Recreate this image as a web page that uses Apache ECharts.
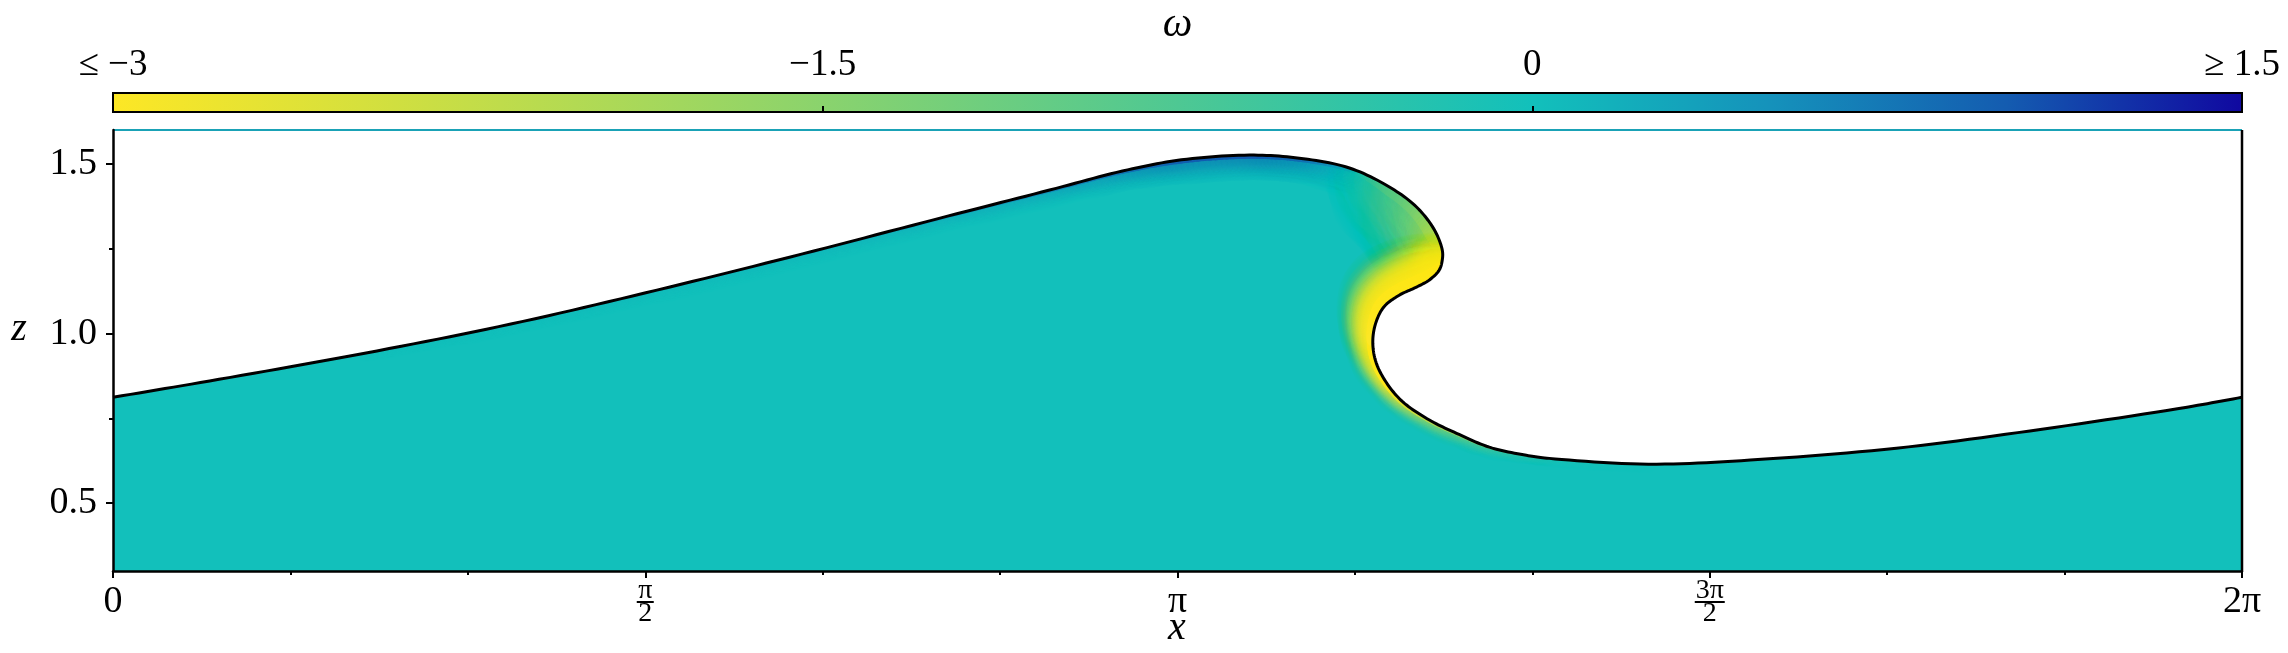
<!DOCTYPE html>
<html>
<head>
<meta charset="utf-8">
<script src="https://cdn.jsdelivr.net/npm/echarts@6/dist/echarts.min.js"></script>
<style>
  html, body { margin: 0; padding: 0; background: #fff; }
  #main { width: 2288px; height: 653px; }
</style>
</head>
<body>
<div id="main"></div>
<script>
// free surface at t = 2.5, in order from x = 0 to x = 2pi
const surfX = [0, 0.313, 0.743, 1.174, 1.605, 2.032, 2.463, 2.764, 2.979, 3.153, 3.354, 3.501, 3.649,
  3.767, 3.847, 3.900, 3.923, 3.923, 3.914, 3.885, 3.847, 3.796, 3.752, 3.728, 3.718, 3.726, 3.755,
  3.805, 3.885, 3.965, 4.062, 4.171, 4.239, 4.531, 4.832, 5.263, 5.693, 6.121, 6.283];
const surfZ = [0.812, 0.865, 0.942, 1.028, 1.128, 1.234, 1.346, 1.423, 1.479, 1.512, 1.526, 1.517, 1.488,
  1.432, 1.373, 1.305, 1.246, 1.217, 1.187, 1.158, 1.137, 1.113, 1.080, 1.035, 0.980, 0.920, 0.860,
  0.800, 0.745, 0.706, 0.665, 0.641, 0.632, 0.615, 0.627, 0.662, 0.718, 0.783, 0.812];
// vorticity just under the surface, and how deep (in z) it reaches into the water
const surfOmega = [0, 0.03, 0.06, 0.1, 0.15, 0.22, 0.38, 0.55, 0.75, 0.95, 1.0, 0.8, 0.15,
  -0.6, -1.0, -1.5, -2.0, -2.4, -2.9, -4, -4, -4, -4, -4, -4, -3.5, -3,
  -2.5, -2, -1.5, -1.0, -0.6, -0.3, -0.05, 0, 0, 0, 0, 0];
const omegaDepth = [0.02, 0.02, 0.02, 0.025, 0.03, 0.03, 0.035, 0.04, 0.045, 0.055, 0.055, 0.055, 0.07,
  0.14, 0.15, 0.15, 0.09, 0.07, 0.07, 0.1, 0.11, 0.11, 0.1, 0.08, 0.06, 0.05, 0.04,
  0.035, 0.03, 0.03, 0.025, 0.02, 0.02, 0.02, 0.02, 0.02, 0.02, 0.02, 0.02];
const zBottom = 0.3, zTop = 1.6;

// colour bar
const cbarValues = [-3, -2.4, -1.5, -0.75, 0, 0.5, 1.0, 1.5];
const cbarColors = ['#fde725', '#d0df40', '#8ad36d', '#4ec893', '#12c0bb', '#1592bb', '#145cb0', '#1008a0'];
const cbarTickLabels = ['≤ −3', '−1.5', '0', '≥ 1.5'];

// axes
const xTickLabels = ['0', '{n|π}\n{b1|}\n{d|2}', 'π', '{n|3π}\n{b2|}\n{d|2}', '2π'];
const yTickValues = [0.5, 1.0, 1.5];
const yMinorValues = [0.75, 1.25];

const SERIF = "'Liberation Serif', 'DejaVu Serif', serif";
const TWO_PI = 2 * Math.PI;

function omegaColor(w) {
  const v = cbarValues;
  w = Math.max(v[0], Math.min(v[v.length - 1], w));
  for (let i = 0; i < v.length - 1; i++) {
    if (w <= v[i + 1]) {
      return echarts.color.lerp((w - v[i]) / (v[i + 1] - v[i]), [cbarColors[i], cbarColors[i + 1]]);
    }
  }
  return cbarColors[cbarColors.length - 1];
}

// centripetal catmull-rom through the read points, only for drawing a smooth curve
function densify(pts, om, dep, steps) {
  const n = pts.length;
  const out = [];
  const knot = (a, b) => Math.max(Math.sqrt(Math.hypot(b[0] - a[0], b[1] - a[1])), 1e-4);
  const lerp = (a, b, ta, tb, u) => [
    ((tb - u) * a[0] + (u - ta) * b[0]) / (tb - ta),
    ((tb - u) * a[1] + (u - ta) * b[1]) / (tb - ta)
  ];
  for (let i = 0; i < n - 1; i++) {
    const p1 = pts[i], p2 = pts[i + 1];
    const p0 = i > 0 ? pts[i - 1] : [2 * p1[0] - p2[0], 2 * p1[1] - p2[1]];
    const p3 = i < n - 2 ? pts[i + 2] : [2 * p2[0] - p1[0], 2 * p2[1] - p1[1]];
    const t0 = 0, t1 = t0 + knot(p0, p1), t2 = t1 + knot(p1, p2), t3 = t2 + knot(p2, p3);
    for (let s = 0; s < steps; s++) {
      const f = s / steps;
      const u = t1 + (t2 - t1) * f;
      const a1 = lerp(p0, p1, t0, t1, u), a2 = lerp(p1, p2, t1, t2, u), a3 = lerp(p2, p3, t2, t3, u);
      const b1 = lerp(a1, a2, t0, t2, u), b2 = lerp(a2, a3, t1, t3, u);
      const c = lerp(b1, b2, t1, t2, u);
      out.push({ p: c, w: om[i] + (om[i + 1] - om[i]) * f, d: dep[i] + (dep[i + 1] - dep[i]) * f });
    }
  }
  out.push({ p: pts[n - 1], w: om[n - 1], d: dep[n - 1] });
  return out;
}

function renderWave(params, api) {
  const pts = surfX.map((x, i) => api.coord([x, surfZ[i]]));
  const unit = api.size([0, 1])[1];
  const dense = densify(pts, surfOmega, omegaDepth, 12);
  const line = dense.map(d => d.p);
  const children = [];

  // water
  children.push({
    type: 'polygon',
    shape: { points: line.concat([api.coord([TWO_PI, zBottom]), api.coord([0, zBottom])]) },
    style: { fill: '#12c0bb', stroke: null }
  });

  // vorticity layer: soft coloured strokes along the surface, weakest first
  const segs = [];
  for (let k = 0; k < dense.length - 1; k++) {
    const w = (dense[k].w + dense[k + 1].w) / 2;
    if (Math.abs(w) < 0.06) continue;
    segs.push({ k: k, w: w, r: (dense[k].d + dense[k + 1].d) / 2 * unit });
  }
  segs.sort((a, b) => Math.abs(a.w) - Math.abs(b.w));
  segs.forEach(s => {
    const a = line[s.k], b = line[s.k + 1];
    const c = omegaColor(s.w);
    const core = 0.3 + 0.1 * Math.min(Math.abs(s.w), 3);
    children.push({
      type: 'line',
      shape: { x1: a[0], y1: a[1], x2: b[0], y2: b[1] },
      style: { stroke: c, lineWidth: s.r * core, lineCap: 'round', shadowBlur: s.r, shadowColor: c }
    });
  });

  // air
  children.push({
    type: 'polygon',
    shape: { points: line.concat([api.coord([TWO_PI, zTop]), api.coord([0, zTop])]) },
    style: { fill: '#fff', stroke: null }
  });

  // surface
  children.push({
    type: 'polyline',
    shape: { points: line },
    style: { stroke: '#000', lineWidth: 3, fill: null, lineJoin: 'round' }
  });

  // frame: top and right
  const tl = api.coord([0, zTop]), tr = api.coord([TWO_PI, zTop]), br = api.coord([TWO_PI, zBottom]);
  children.push({ type: 'line', shape: { x1: tl[0], y1: tl[1], x2: tr[0], y2: tr[1] }, style: { stroke: '#1aa2b6', lineWidth: 2 } });
  children.push({ type: 'line', shape: { x1: tr[0], y1: tr[1], x2: br[0], y2: br[1] }, style: { stroke: '#000', lineWidth: 2.5 } });

  return { type: 'group', children: children };
}

function renderColorbar(params, api) {
  const a = api.coord([cbarValues[0], 1]);
  const b = api.coord([cbarValues[cbarValues.length - 1], 0]);
  const span = cbarValues[cbarValues.length - 1] - cbarValues[0];
  const stops = cbarValues.map((v, i) => ({ offset: (v - cbarValues[0]) / span, color: cbarColors[i] }));
  return {
    type: 'rect',
    shape: { x: a[0], y: a[1], width: b[0] - a[0], height: b[1] - a[1] },
    style: {
      fill: new echarts.graphic.LinearGradient(0, 0, 1, 0, stops),
      stroke: '#000',
      lineWidth: 2
    }
  };
}

const chart = echarts.init(document.getElementById('main'));

const tickStyle = { color: '#000', width: 2 };
const italic = { fontFamily: SERIF, fontSize: 40, fontStyle: 'italic', fill: '#000', align: 'center', verticalAlign: 'middle' };

const option = {
  animation: false,
  backgroundColor: '#fff',
  grid: [
    { left: 113, top: 130, width: 2129, height: 441, outerBoundsMode: 'none' },
    { left: 113, top: 93, width: 2129, height: 19, outerBoundsMode: 'none' }
  ],
  xAxis: [
    {
      gridIndex: 0, type: 'value', min: 0, max: TWO_PI, interval: Math.PI / 2, z: 5,
      axisLine: { onZero: false, lineStyle: { color: '#000', width: 2.5 } },
      axisTick: { length: 7, lineStyle: tickStyle },
      minorTick: { show: true, splitNumber: 3, length: 4, lineStyle: tickStyle },
      splitLine: { show: false },
      axisLabel: {
        margin: 31, verticalAlign: 'middle', fontFamily: SERIF, fontSize: 38, color: '#000',
        formatter: v => xTickLabels[Math.round(v / (Math.PI / 2))],
        rich: {
          n: { fontFamily: SERIF, fontSize: 28, lineHeight: 19, color: '#000', align: 'center' },
          d: { fontFamily: SERIF, fontSize: 28, lineHeight: 19, color: '#000', align: 'center' },
          b1: { width: 17, height: 2, lineHeight: 4, backgroundColor: '#000', align: 'center' },
          b2: { width: 30, height: 2, lineHeight: 4, backgroundColor: '#000', align: 'center' }
        }
      }
    },
    {
      gridIndex: 1, type: 'value', position: 'top', min: cbarValues[0], max: 1.5, interval: 1.5, z: 5,
      name: 'ω', nameLocation: 'middle', nameGap: 64,
      nameTextStyle: { fontFamily: SERIF, fontSize: 42, fontStyle: 'italic', color: '#000', verticalAlign: 'middle' },
      axisLine: { show: false },
      axisTick: { length: 6, lineStyle: tickStyle },
      splitLine: { show: false },
      axisLabel: {
        margin: 28, verticalAlign: 'middle', fontFamily: SERIF, fontSize: 37, color: '#000',
        showMinLabel: true, showMaxLabel: true,
        formatter: v => cbarTickLabels[Math.round((v - cbarValues[0]) / 1.5)]
      }
    }
  ],
  yAxis: [
    {
      gridIndex: 0, type: 'value', min: zBottom, max: zTop, z: 5,
      axisLine: { onZero: false, lineStyle: { color: '#000', width: 2.5 } },
      axisTick: { length: 7, lineStyle: tickStyle, customValues: yTickValues },
      splitLine: { show: false },
      axisLabel: {
        margin: 16, fontFamily: SERIF, fontSize: 38, color: '#000',
        customValues: yTickValues, formatter: v => v.toFixed(1)
      }
    },
    {
      gridIndex: 0, type: 'value', min: zBottom, max: zTop, position: 'left', offset: 0, z: 5,
      axisLine: { show: false },
      axisTick: { length: 4, lineStyle: tickStyle, customValues: yMinorValues },
      axisLabel: { show: false },
      splitLine: { show: false }
    },
    {
      gridIndex: 1, type: 'value', min: 0, max: 1, show: false
    }
  ],
  graphic: [
    { type: 'text', x: 1177, y: 628, style: Object.assign({ text: 'x' }, italic) },
    { type: 'text', x: 19, y: 329, style: Object.assign({ text: 'z' }, italic) },
    {
      type: 'text', x: 2072, y: 254,
      style: {
        text: '{i|t}\u2004=\u20042.5', fontFamily: SERIF, fontSize: 40, fill: '#000', verticalAlign: 'middle',
        rich: { i: { fontFamily: SERIF, fontSize: 40, fontStyle: 'italic' } }
      }
    }
  ],
  series: [
    {
      type: 'custom', xAxisIndex: 0, yAxisIndex: 0, clip: false, silent: true,
      data: [[0, zBottom]], renderItem: renderWave
    },
    {
      type: 'custom', xAxisIndex: 1, yAxisIndex: 2, clip: false, silent: true,
      data: [[cbarValues[0], 0]], renderItem: renderColorbar
    }
  ]
};

chart.setOption(option);
</script>
</body>
</html>
